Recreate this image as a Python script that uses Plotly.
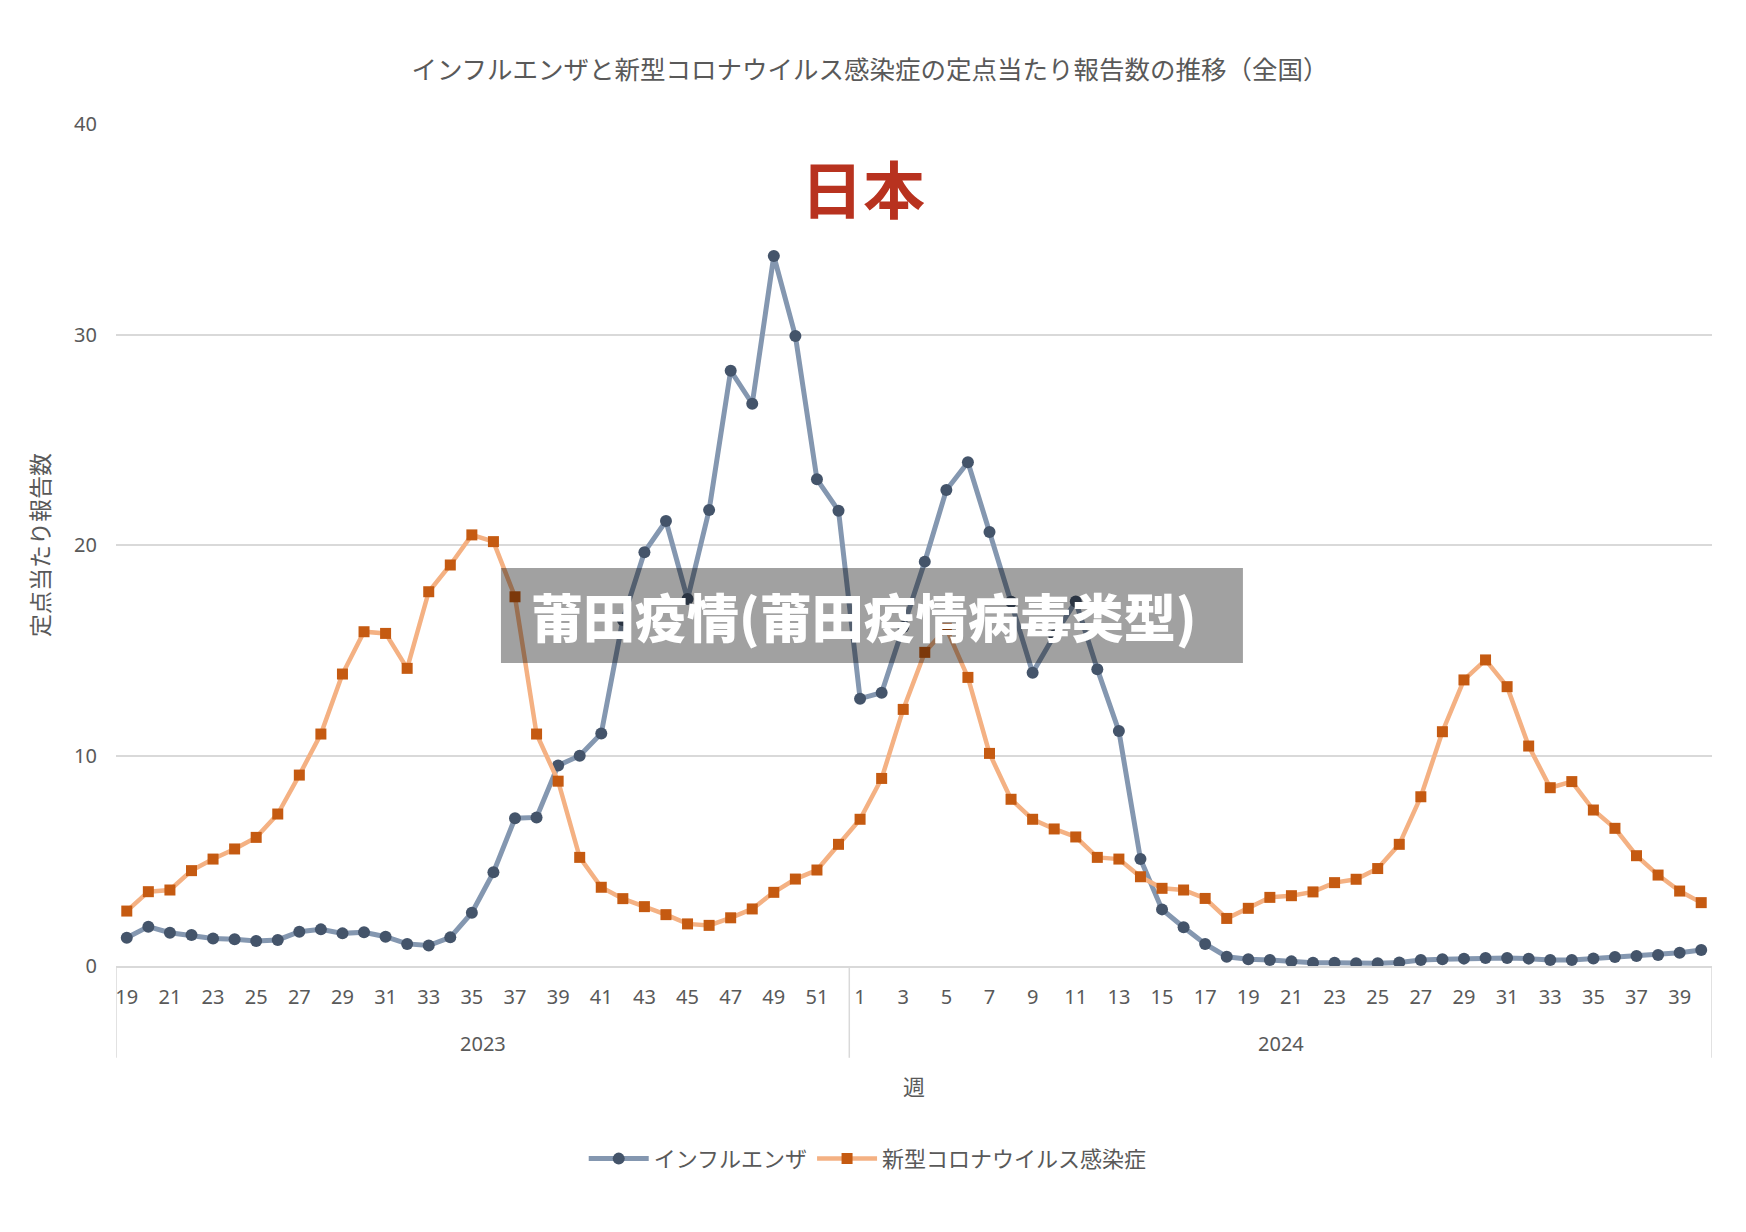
import plotly.graph_objects as go

# ---------------- data ----------------
weeks_2023 = list(range(19, 53))
weeks_2024 = list(range(1, 41))

flu_2023 = [1.34, 1.87, 1.58, 1.47, 1.31, 1.27, 1.19, 1.24, 1.63, 1.74,
            1.55, 1.60, 1.39, 1.05, 0.97, 1.36, 2.53, 4.45, 7.02, 7.06,
            9.53, 9.99, 11.05, 16.44, 19.66, 21.14, 17.43, 21.66, 28.28, 26.71,
            33.73, 29.93, 23.12, 21.63]
flu_2024 = [12.70, 12.98, 16.10, 19.21, 22.61, 23.93, 20.62, 17.30, 13.93, 15.70,
            17.32, 14.10, 11.16, 5.08, 2.69, 1.84, 1.05, 0.44, 0.32, 0.29,
            0.22, 0.16, 0.16, 0.13, 0.13, 0.17, 0.29, 0.32, 0.35, 0.38,
            0.38, 0.35, 0.29, 0.29, 0.36, 0.43, 0.48, 0.52, 0.63, 0.76]

covid_2023 = [2.61, 3.53, 3.61, 4.53, 5.08, 5.56, 6.11, 7.22, 9.07, 11.02,
              13.87, 15.88, 15.80, 14.14, 17.78, 19.05, 20.48, 20.16, 17.54, 11.02,
              8.78, 5.16, 3.74, 3.20, 2.82, 2.44, 2.00, 1.93, 2.29, 2.71,
              3.50, 4.13, 4.56, 5.78]
covid_2024 = [6.97, 8.91, 12.19, 14.90, 16.04, 13.71, 10.10, 7.92, 6.97, 6.51,
              6.13, 5.16, 5.08, 4.24, 3.69, 3.61, 3.21, 2.26, 2.74, 3.26,
              3.34, 3.52, 3.96, 4.12, 4.63, 5.78, 8.04, 11.13, 13.59, 14.54,
              13.27, 10.45, 8.47, 8.76, 7.41, 6.54, 5.24, 4.32, 3.56, 3.01]

year_names = ["2023", "2024"]
year_weeks = [weeks_2023, weeks_2024]

series_names = ["インフルエンザ", "新型コロナウイルス感染症"]
chart_title = "インフルエンザと新型コロナウイルス感染症の定点当たり報告数の推移（全国）"
y_title = "定点当たり報告数"
x_title = "週"
country_label = "日本"
overlay_text = "莆田疫情(莆田疫情病毒类型)"

# ---------------- derived category keys ----------------
x_keys = []
week_labels = []
for yname, wks in zip(year_names, year_weeks):
    for w in wks:
        x_keys.append(f"{yname}-W{w}")
        week_labels.append(str(w))

flu = flu_2023 + flu_2024
covid = covid_2023 + covid_2024

# ---------------- figure ----------------
JP = "Noto Sans CJK JP"
BASE = "Noto Sans, Noto Sans CJK JP, sans-serif"
GRAY = "#595959"
LINE_GRAY = "#D9D9D9"

fig = go.Figure()
fig.add_trace(go.Scatter(
    x=x_keys, y=flu,
    name=series_names[0], mode="lines+markers",
    line=dict(color="#8497B0", width=5),
    marker=dict(symbol="circle", size=12, color="#44546A"),
))
fig.add_trace(go.Scatter(
    x=x_keys, y=covid,
    name=series_names[1], mode="lines+markers",
    line=dict(color="#F4B183", width=4.5),
    marker=dict(symbol="square", size=11, color="#C55A11"),
))

n = len(x_keys)
fig.update_layout(
    width=1746, height=1232,
    margin=dict(l=116, r=34, t=124, b=266),
    paper_bgcolor="white", plot_bgcolor="white",
    font=dict(family=BASE, size=20, color=GRAY),
    title=dict(text=chart_title, x=870 / 1746, xref="container", xanchor="center",
               y=1 - 70 / 1232, yref="container", yanchor="middle",
               font=dict(family=JP, size=25.5, color=GRAY)),
    showlegend=True,
    legend=dict(orientation="h", x=0.471, xanchor="center", y=-0.229, yanchor="middle",
                font=dict(family=JP, size=22, color=GRAY), itemwidth=60),
    xaxis=dict(
        type="category",
        categoryorder="array", categoryarray=x_keys,
        range=[-0.5, n - 0.5],
        tickmode="array", tickvals=x_keys[::2], ticktext=week_labels[::2], tickangle=0,
        ticklabelstandoff=12,
        showgrid=False, showline=True, linecolor=LINE_GRAY, linewidth=1.5,
        tickfont=dict(family=BASE, size=20, color=GRAY),
        title=dict(text=x_title, font=dict(family=JP, size=22, color=GRAY), standoff=71),
    ),
    yaxis=dict(
        range=[0, 40], tickvals=[0, 10, 20, 30, 40],
        showgrid=True, gridcolor=LINE_GRAY, gridwidth=1.5,
        zeroline=False, showline=False,
        ticklabelstandoff=18,
        tickfont=dict(family=BASE, size=20, color=GRAY),
        title=dict(text=y_title, font=dict(family=JP, size=23, color=GRAY), standoff=18),
    ),
)

# year group labels and dividers below the week labels
start = 0
divider_pos = [-0.5]
for yname, wks in zip(year_names, year_weeks):
    end = start + len(wks) - 1
    fig.add_annotation(text=yname, xref="x", yref="paper",
                       x=(start + end) / 2, y=-0.0926, xanchor="center", yanchor="middle",
                       showarrow=False, font=dict(family=BASE, size=20, color=GRAY))
    divider_pos.append(end + 0.5)
    start = end + 1
for xp in divider_pos:
    fig.add_shape(type="line", xref="x", yref="paper", x0=xp, x1=xp, y0=0, y1=-0.109,
                  line=dict(color=LINE_GRAY, width=1.5), layer="below")

# country label
fig.add_annotation(text=country_label, xref="paper", yref="paper",
                   x=0.468, y=0.925, xanchor="center", yanchor="middle",
                   showarrow=False,
                   font=dict(family=JP, size=62, color="#B8321F", weight="bold"))

# overlay banner
fig.add_shape(type="rect", xref="paper", yref="paper",
              x0=0.2412, x1=0.7061, y0=0.3599, y1=0.4727,
              fillcolor="rgba(0,0,0,0.37)", line=dict(width=0), layer="above")
fig.add_annotation(text=overlay_text, xref="paper", yref="paper",
                   x=0.4685, y=0.4163, xanchor="center", yanchor="middle",
                   showarrow=False,
                   font=dict(family="Noto Sans CJK SC", size=52, color="white", weight=900))

fig.write_html("out.html")
